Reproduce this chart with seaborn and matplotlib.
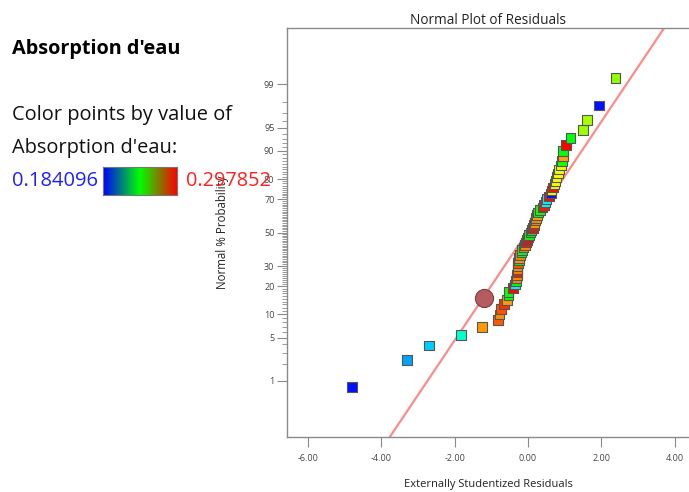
import numpy as np
import matplotlib
matplotlib.use("Agg")
import matplotlib.pyplot as plt
from matplotlib.colors import ListedColormap, LinearSegmentedColormap
from matplotlib.ticker import FixedLocator, FixedFormatter, NullFormatter
from statistics import NormalDist
import seaborn as sns

# ---------------- data ----------------
residuals = [-4.79, -3.30, -2.70, -1.82, -1.26, -0.82, -0.78, -0.74, -0.66, -0.57,
             -0.53, -0.53, -0.40, -0.36, -0.33, -0.31, -0.30, -0.29, -0.29, -0.29,
             -0.28, -0.25, -0.24, -0.22, -0.18, -0.16, -0.12, -0.08, -0.05, -0.02,
             0.00, 0.03, 0.07, 0.10, 0.13, 0.16, 0.18, 0.20, 0.22, 0.25,
             0.28, 0.33, 0.40, 0.44, 0.48, 0.51, 0.58, 0.62, 0.64, 0.68,
             0.72, 0.75, 0.78, 0.82, 0.85, 0.90, 0.93, 0.95, 0.96, 1.04,
             1.16, 1.50, 1.61, 1.93, 2.39]
absorption = [0.1841, 0.2007, 0.2057, 0.2171, 0.2797, 0.2876, 0.2810, 0.2880, 0.2920, 0.2800,
              0.2387, 0.2390, 0.2967, 0.2103, 0.2387, 0.2820, 0.2810, 0.2950, 0.2830, 0.2815,
              0.2880, 0.2387, 0.2805, 0.2830, 0.2395, 0.2380, 0.2820, 0.2810, 0.2955, 0.2967,
              0.2979, 0.2390, 0.2400, 0.2387, 0.2960, 0.2950, 0.2800, 0.2815, 0.2820, 0.2790,
              0.2410, 0.2420, 0.2960, 0.2945, 0.2110, 0.2100, 0.2967, 0.1850, 0.2683, 0.2960,
              0.2690, 0.2680, 0.2675, 0.2685, 0.2670, 0.2660, 0.2420, 0.2790, 0.2400, 0.2975,
              0.2390, 0.2570, 0.2590, 0.1845, 0.2560]
abs_min, abs_max = 0.184096, 0.297852
highlight_x = [-1.20]
highlight_pct = [15.3]
line_mu, line_sigma = -0.03, 1.166

x_ticks = [-6, -4, -2, 0, 2, 4]
y_major = [1, 5, 10, 20, 30, 50, 70, 80, 90, 95, 99]
y_minor = [2, 3, 4, 6, 7, 8, 9] + list(range(11, 20)) + list(range(21, 30)) + \
          list(range(31, 50)) + list(range(51, 70)) + list(range(71, 80)) + \
          list(range(81, 90)) + [91, 92, 93, 94, 96, 97, 98]

title = "Normal Plot of Residuals"
xlabel = "Externally Studentized Residuals"
ylabel = "Normal % Probability"
side_title = "Absorption d'eau"
side_line1 = "Color points by value of"
side_line2 = "Absorption d'eau:"

# ---------------- style ----------------
sns.set_theme(style="white")
plt.rcParams['font.family'] = ['Open Sans', 'DejaVu Sans']

nd = NormalDist()
_ppf = np.vectorize(nd.inv_cdf, otypes=[float])
_cdf = np.vectorize(nd.cdf, otypes=[float])

def probit_fwd(p):
    p = np.clip(np.asarray(p, dtype=float) / 100.0, 1e-12, 1 - 1e-12)
    return _ppf(p)

def probit_inv(z):
    return _cdf(np.asarray(z, dtype=float)) * 100.0

n = len(residuals)
pct = (np.arange(1, n + 1) - 0.5) / n * 100.0
df = {"res": np.array(residuals), "pct": pct, "val": np.array(absorption)}

point_cmap = ListedColormap(matplotlib.colormaps['hsv'](np.linspace(0.6667, 0.0, 256)))
bar_cmap = LinearSegmentedColormap.from_list("bgr", ["#0000ff", "#00ff00", "#ff0000"])

fig = plt.figure(figsize=(6.89, 4.92), dpi=100)
ax = fig.add_axes([287 / 689, 55 / 492, 402 / 689, 409 / 492])
ax.set_yscale('function', functions=(probit_fwd, probit_inv))

# fitted normal line
xs = np.linspace(-7, 5, 300)
ax.plot(xs, probit_inv((xs - line_mu) / line_sigma), color="#ff8a8a", lw=1.6, zorder=1)

sns.scatterplot(x=df["res"], y=df["pct"], hue=df["val"], palette=point_cmap,
                hue_norm=(abs_min, abs_max), marker="s", s=48, edgecolor="#555555",
                linewidth=0.8, legend=False, ax=ax, zorder=3)

ax.scatter(highlight_x, highlight_pct, s=170, color="#b55c60", edgecolor="#7d3e41",
           linewidth=0.8, zorder=4)

ax.set_xlim(-6.57, 4.39)
ax.set_ylim(probit_inv(-3.205), probit_inv(3.21))

ax.set_xticks(x_ticks)
ax.set_xticklabels([f"{v:.2f}" for v in x_ticks])
ax.yaxis.set_major_locator(FixedLocator(y_major))
ax.yaxis.set_major_formatter(FixedFormatter([str(v) for v in y_major]))
ax.yaxis.set_minor_locator(FixedLocator(y_minor))
ax.yaxis.set_minor_formatter(NullFormatter())

for s in ["left", "bottom", "top"]:
    ax.spines[s].set_color("#8a8a8a")
    ax.spines[s].set_linewidth(1.0)
ax.spines["right"].set_visible(False)

ax.tick_params(axis="x", which="major", direction="out", length=7, width=0.8,
               color="#8a8a8a", labelsize=6.5, labelcolor="#444444", pad=5,
               bottom=True)
ax.tick_params(axis="y", which="major", direction="out", length=7, width=0.8,
               color="#8a8a8a", labelsize=6.5, labelcolor="#444444", pad=2, left=True)
ax.tick_params(axis="y", which="minor", direction="out", length=3.8, width=0.7,
               color="#999999", left=True)

ax.set_title(title, fontsize=9.8, color="#222222", pad=3)
ax.set_xlabel(xlabel, fontsize=8, color="#222222", labelpad=12)
ax.set_ylabel(ylabel, fontsize=8.3, color="#222222", labelpad=25)

# side annotation
fig.text(12 / 689, 1 - 49 / 492, side_title, fontsize=14.3, fontweight="bold",
         va="center", ha="left", color="#000000")
fig.text(12 / 689, 1 - 115 / 492, side_line1, fontsize=14.4, va="center", ha="left",
         color="#111111")
fig.text(12 / 689, 1 - 148 / 492, side_line2, fontsize=14.4, va="center", ha="left",
         color="#111111")
fig.text(12 / 689, 1 - 181 / 492, f"{abs_min:g}", fontsize=14.5, va="center", ha="left",
         color="#2020ff")
fig.text(186 / 689, 1 - 181 / 492, f"{abs_max:g}", fontsize=14.3, va="center", ha="left",
         color="#ff2020")

cax = fig.add_axes([103 / 689, 1 - 195 / 492, 74 / 689, 28 / 492])
cax.imshow(np.linspace(0, 1, 256)[None, :], aspect="auto", cmap=bar_cmap)
cax.set_xticks([])
cax.set_yticks([])
for s in cax.spines.values():
    s.set_color("#777777")
    s.set_linewidth(0.8)

fig.savefig("out.png", dpi=100)
